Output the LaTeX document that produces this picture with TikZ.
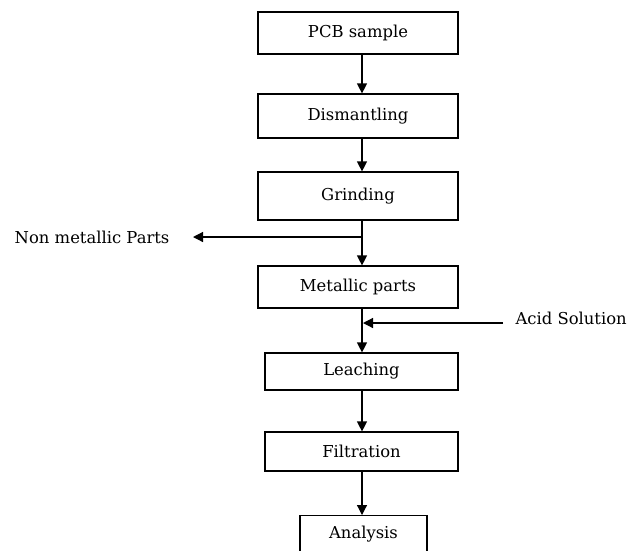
\documentclass[tikz,border=0pt]{standalone}
\usepackage{fontspec}
\setmainfont{DejaVu Serif}
\usetikzlibrary{arrows.meta,calc}

\begin{document}
\begin{tikzpicture}[x=1pt,y=-1pt,line width=1.2pt,>={Triangle[width=10pt,length=10pt]}]
  \tikzstyle{stage}=[rectangle,draw=black,inner sep=0pt,font=\fontsize{16.4}{19}\selectfont]
  \tikzstyle{side}=[inner sep=2pt,font=\fontsize{16.4}{19}\selectfont]
  \useasboundingbox (0,0) rectangle (629,550);
  \coordinate (axis) at (362,0);
  \foreach \name/\x/\y/\w/\h/\label in {pcb/358/33/200/42/PCB sample, dis/358/116/200/44/Dismantling, grind/358/196/200/48/Grinding, metal/358/287/200/42/Metallic parts, leach/361.5/371.5/193/37/Leaching, filt/361.5/451.5/193/39/Filtration}
    \node[stage,minimum width=\w pt,minimum height=\h pt] (\name) at (\x,\y) {\label};
  \node[stage,anchor=north,minimum width=127pt,inner ysep=10pt,text height=13pt,text depth=25pt] (anal) at (363.5,515) {Analysis};
  \foreach \from/\to in {pcb/dis, dis/grind, grind/metal, metal/leach, leach/filt, filt/anal}
    \draw[->] (\from.south -| axis) -- (\to.north -| axis);
  % side streams
  \node[side,anchor=east] (nonmet) at (172,237) {Non metallic Parts};
  \node[side,anchor=west] (acid) at (513,318) {Acid Solution};
  \coordinate (split) at (axis |- nonmet);
  \coordinate (feed) at (363,323);
  \draw[->,shorten >=21pt] (split) -- (nonmet.east);
  \draw[->,shorten <=10pt] (acid.west |- feed) -- (feed);
\end{tikzpicture}
\end{document}
